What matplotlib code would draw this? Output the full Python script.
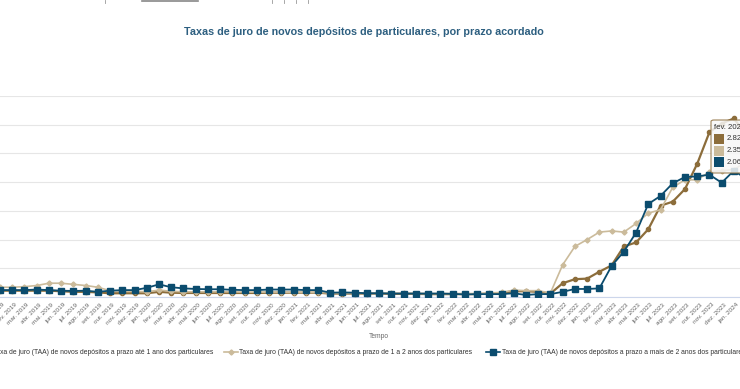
import numpy as np
import matplotlib
matplotlib.use('Agg')
import matplotlib.pyplot as plt
import matplotlib.transforms as mtransforms
from matplotlib.lines import Line2D
from matplotlib.patches import FancyBboxPatch, Rectangle

plt.rcParams['font.family'] = ['Liberation Sans', 'DejaVu Sans']

# meses de jan. 2019 a fev. 2024
meses = ['jan.', 'fev.', 'mar.', 'abr.', 'mai.', 'jun.', 'jul.', 'ago.', 'set.', 'out.', 'nov.', 'dez.']
anos = [2019, 2020, 2021, 2022, 2023, 2024]

# Taxa de juro (TAA) - prazo até 1 ano
ate_1_ano = [0.11, 0.11, 0.11, 0.11, 0.11, 0.10, 0.09, 0.09, 0.08, 0.065, 0.065, 0.065,
             0.065, 0.09, 0.075, 0.07, 0.07, 0.07, 0.07, 0.07, 0.07, 0.07, 0.075, 0.075,
             0.075, 0.075, 0.075, 0.06, 0.06, 0.06, 0.06, 0.06, 0.055, 0.055, 0.055, 0.05,
             0.05, 0.05, 0.05, 0.05, 0.06, 0.07, 0.10, 0.10, 0.09, 0.06, 0.24, 0.31,
             0.32, 0.44, 0.55, 0.88, 0.95, 1.18, 1.59, 1.66, 1.88, 2.32, 2.87, 3.02,
             3.11, 2.82]
# prazo de 1 a 2 anos
de_1_a_2_anos = [0.17, 0.17, 0.18, 0.20, 0.24, 0.24, 0.22, 0.20, 0.17, 0.11, 0.10, 0.10,
                 0.09, 0.12, 0.10, 0.09, 0.09, 0.09, 0.09, 0.09, 0.085, 0.085, 0.085, 0.085,
                 0.08, 0.08, 0.08, 0.07, 0.07, 0.07, 0.07, 0.065, 0.065, 0.065, 0.06, 0.06,
                 0.06, 0.06, 0.06, 0.06, 0.07, 0.08, 0.12, 0.11, 0.11, 0.07, 0.56, 0.88,
                 1.00, 1.13, 1.15, 1.13, 1.28, 1.46, 1.52, 1.91, 2.04, 2.04, 2.18, 2.20,
                 2.22, 2.35]
# prazo a mais de 2 anos
mais_2_anos = [0.12, 0.12, 0.12, 0.13, 0.12, 0.11, 0.105, 0.11, 0.09, 0.11, 0.12, 0.12,
               0.16, 0.22, 0.17, 0.15, 0.14, 0.135, 0.135, 0.125, 0.12, 0.12, 0.13, 0.13,
               0.13, 0.12, 0.12, 0.075, 0.08, 0.075, 0.065, 0.065, 0.06, 0.06, 0.06, 0.06,
               0.06, 0.055, 0.045, 0.05, 0.05, 0.05, 0.065, 0.035, 0.05, 0.05, 0.09, 0.14,
               0.14, 0.15, 0.54, 0.79, 1.12, 1.62, 1.76, 1.98, 2.09, 2.10, 2.13, 1.99,
               2.20, 2.06]

nomes = ['Taxa de juro (TAA) de novos depósitos a prazo até 1 ano dos particulares',
         'Taxa de juro (TAA) de novos depósitos a prazo de 1 a 2 anos dos particulares',
         'Taxa de juro (TAA) de novos depósitos a prazo a mais de 2 anos dos particulares']
cores = ['#8c6d3b', '#cbbb9b', '#0b4c6e']

rotulos = [f'{m} {a}' for a in anos for m in meses][:len(ate_1_ano)]
x = np.arange(len(rotulos))

W, H = 740, 389
fig = plt.figure(figsize=(W / 100, H / 100), dpi=100)

def fx(px):
    return px / W

def fy(py):
    return 1 - py / H

ax = fig.add_axes([0, fy(297), 1, fy(96) - fy(297)])

ax.plot(x, ate_1_ano, color=cores[0], lw=1.6, marker='o', ms=3, zorder=3)
ax.plot(x, de_1_a_2_anos, color=cores[1], lw=1.2, marker='D', ms=2.6, zorder=4)
ax.plot(x, mais_2_anos, color=cores[2], lw=1.3, marker='s', ms=4.2, zorder=5)

ax.set_xlim(2, 2 + W / 12.65)
ax.set_ylim(0, 3.5)
ax.set_yticks(np.arange(0, 3.6, 0.5))
ax.set_yticklabels([])
ax.grid(axis='y', color='#e6e6e6', lw=0.8)
ax.set_axisbelow(True)
for s in ['top', 'left', 'right']:
    ax.spines[s].set_visible(False)
ax.spines['bottom'].set_color('#ccd6eb')
ax.tick_params(axis='both', length=0)
ax.tick_params(axis='x', pad=5)
# o ultimo mes (fev. 2024) so aparece na caixa de dica
ax.set_xticks(x[:-1])
ax.set_xticklabels(rotulos[:-1], rotation=45, ha='right', va='center', rotation_mode='anchor',
                   fontsize=4.6, color='#666666')
desvio = mtransforms.ScaledTranslation(4 / 100, 0, fig.dpi_scale_trans)
for lab in ax.get_xticklabels():
    lab.set_transform(lab.get_transform() + desvio)

# titulo e eixo
fig.text(fx(364), fy(32), 'Taxas de juro de novos depósitos de particulares, por prazo acordado',
         ha='center', va='center', fontsize=7.75, fontweight='bold', color='#2d5f80')
fig.text(fx(379), fy(336), 'Tempo', ha='center', va='center', fontsize=4.8, color='#666666')

# legenda
ly = fy(352)
fig.text(fx(213), ly, nomes[0], ha='right', va='center', fontsize=4.9, color='#333333')
for cx, tx, nome, cor, mk, ms in [(231, 239, nomes[1], cores[1], 'D', 2.6),
                                  (493, 502, nomes[2], cores[2], 's', 4.2)]:
    fig.add_artist(Line2D([fx(cx - 7), fx(cx + 7)], [ly, ly], color=cor, lw=1.2))
    fig.add_artist(Line2D([fx(cx)], [ly], color=cor, marker=mk, ms=ms))
    fig.text(fx(tx), ly, nome, ha='left', va='center', fontsize=4.9, color='#333333')

# caixa de dica (tooltip)
caixa = FancyBboxPatch((fx(711), fy(173)), fx(60), fy(120) - fy(173),
                       boxstyle='round,pad=0,rounding_size=0.004',
                       facecolor='#f7f7f7', alpha=0.85, edgecolor=cores[0], lw=0.8,
                       transform=fig.transFigure, zorder=10)
fig.add_artist(caixa)
fig.text(fx(714), fy(128), 'fev. 2024', ha='left', va='center', fontsize=5.6,
         color='#333333', zorder=11)
valores_dica = [ate_1_ano[-1], de_1_a_2_anos[-1], mais_2_anos[-1]]
for i, (v, cor) in enumerate(zip(valores_dica, cores)):
    cy = 139 + i * 11.5
    fig.add_artist(Rectangle((fx(714), fy(cy + 5)), fx(10), fy(cy - 5) - fy(cy + 5),
                             facecolor=cor, edgecolor='none', transform=fig.transFigure,
                             zorder=11))
    fig.text(fx(727), fy(cy), f'{v:.2f}', ha='left', va='center', fontsize=5.6,
             color='#333333', zorder=11)

# restos da pagina no topo
fig.add_artist(Line2D([fx(142), fx(198)], [fy(0.8), fy(0.8)], color='#888888', lw=1.2))
for px in [105, 272, 284, 296, 308]:
    fig.add_artist(Line2D([fx(px), fx(px)], [fy(0), fy(2.5)], color='#999999', lw=0.6))

fig.savefig('out.png', dpi=100)
